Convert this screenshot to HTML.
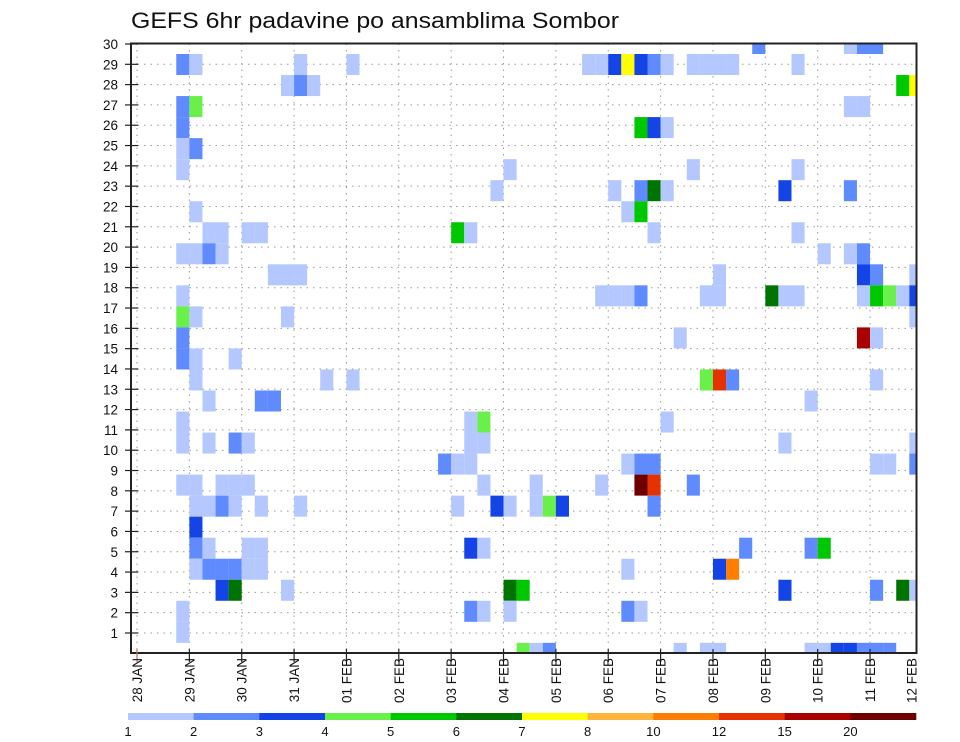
<!DOCTYPE html>
<html><head><meta charset="utf-8"><style>
html,body{margin:0;padding:0;background:#fff;}
svg{display:block;font-family:"Liberation Sans",sans-serif;}
</style></head><body>
<svg id="chart" width="960" height="742" viewBox="0 0 960 742" xmlns="http://www.w3.org/2000/svg">
<text x="131" y="28" font-size="22" textLength="488" lengthAdjust="spacingAndGlyphs" fill="#111">GEFS 6hr padavine po ansamblima Sombor</text>
<defs><clipPath id="pc"><rect x="131" y="43.5" width="785.5" height="609.5"/></clipPath></defs>
<g id="grid"></g>
<g id="cells" clip-path="url(#pc)"></g>
<rect x="131" y="43.5" width="785.5" height="609.5" fill="none" stroke="#222" stroke-width="2"/>
<g id="yaxis"></g>
<g id="xaxis"></g>
<g id="cbar"></g>
</svg>
<script>
const dayLabels = ["28 JAN","29 JAN","30 JAN","31 JAN","01 FEB","02 FEB","03 FEB","04 FEB","05 FEB","06 FEB","07 FEB","08 FEB","09 FEB","10 FEB","11 FEB","12 FEB"];
const memberTicks = [1,2,3,4,5,6,7,8,9,10,11,12,13,14,15,16,17,18,19,20,21,22,23,24,25,26,27,28,29,30];
const levels = [1,2,3,4,5,6,7,8,10,12,15,20];
const levelColors = ["#b4c8ff","#5f8bff","#1444e6","#6af04a","#00c800","#007400","#ffff00","#ffb43c","#ff7d00","#e63200","#aa0000","#6e0000"];
// representative values: L=1.5 b2=2.5 b3=3.5 G1=4.5 G2=5.5 G3=6.5 Y=7.5 9 11 13.5 17 25
const cellStep = [
47,54,55,56,
3,4,12,16,34,35,36,37,38,39,40,42,43,44,45,50,
11,12,13,58,59,
3,4,54,55,
3,38,39,40,
3,4,
3,28,42,50,
27,36,38,39,40,49,54,
4,37,38,
5,6,8,9,24,25,39,50,
3,4,5,6,52,54,55,
10,11,12,44,55,56,59,
3,35,36,37,38,43,44,48,49,50,55,56,57,58,59,
3,4,11,59,
3,41,55,56,
3,4,7,
4,14,16,43,44,45,56,
5,9,10,51,
3,25,26,40,
3,5,7,8,25,26,49,59,
23,24,25,37,38,39,56,57,59,
3,4,6,7,8,26,30,35,38,39,42,
4,5,6,7,9,12,24,27,28,30,31,32,39,
4,
4,5,8,9,25,26,46,51,52,
4,5,6,7,8,9,37,44,45,
6,7,11,28,29,49,56,58,59,
3,25,26,28,37,38,
3,
29,30,31,41,43,44,51,52,53,54,55,56,57];
const cellMember = [
30,30,30,30,
29,29,29,29,29,29,29,29,29,29,29,29,29,29,29,29,
28,28,28,28,28,
27,27,27,27,
26,26,26,26,
25,25,
24,24,24,24,
23,23,23,23,23,23,23,
22,22,22,
21,21,21,21,21,21,21,21,
20,20,20,20,20,20,20,
19,19,19,19,19,19,19,
18,18,18,18,18,18,18,18,18,18,18,18,18,18,18,
17,17,17,17,
16,16,16,16,
15,15,15,
14,14,14,14,14,14,14,
13,13,13,13,
12,12,12,12,
11,11,11,11,11,11,11,11,
10,10,10,10,10,10,10,10,10,
9,9,9,9,9,9,9,9,9,9,9,
8,8,8,8,8,8,8,8,8,8,8,8,8,
7,
6,6,6,6,6,6,6,6,6,
5,5,5,5,5,5,5,5,5,
4,4,4,4,4,4,4,4,4,
3,3,3,3,3,3,
2,
1,1,1,1,1,1,1,1,1,1,1,1,1];
const cellValue = [
2.5,1.5,2.5,2.5,
2.5,1.5,1.5,1.5,1.5,1.5,3.5,7.5,3.5,2.5,1.5,1.5,1.5,1.5,1.5,1.5,
1.5,2.5,1.5,5.5,7.5,
2.5,4.5,1.5,1.5,
2.5,5.5,3.5,1.5,
1.5,2.5,
1.5,1.5,1.5,1.5,
1.5,1.5,2.5,6.5,1.5,3.5,2.5,
1.5,1.5,5.5,
1.5,1.5,1.5,1.5,5.5,1.5,1.5,1.5,
1.5,1.5,2.5,1.5,1.5,1.5,2.5,
1.5,1.5,1.5,1.5,3.5,2.5,1.5,
1.5,1.5,1.5,1.5,2.5,1.5,1.5,6.5,1.5,1.5,1.5,5.5,4.5,1.5,3.5,
4.5,1.5,1.5,1.5,
2.5,1.5,17,1.5,
2.5,1.5,1.5,
1.5,1.5,1.5,4.5,13.5,2.5,1.5,
1.5,2.5,2.5,1.5,
1.5,1.5,4.5,1.5,
1.5,1.5,2.5,1.5,1.5,1.5,1.5,1.5,
2.5,1.5,1.5,1.5,2.5,2.5,1.5,1.5,2.5,
1.5,1.5,1.5,1.5,1.5,1.5,1.5,1.5,25,13.5,2.5,
1.5,1.5,2.5,1.5,1.5,1.5,1.5,3.5,1.5,1.5,4.5,3.5,2.5,
3.5,
2.5,1.5,1.5,1.5,3.5,1.5,2.5,2.5,5.5,
1.5,2.5,2.5,2.5,1.5,1.5,1.5,3.5,11,
3.5,6.5,1.5,6.5,5.5,3.5,2.5,6.5,1.5,
1.5,2.5,1.5,1.5,2.5,1.5,
1.5,
4.5,1.5,2.5,1.5,1.5,1.5,1.5,1.5,3.5,3.5,2.5,2.5,2.5];

const NS="http://www.w3.org/2000/svg";
const X0=137, STEP=13.09, DAY=STEP*4;
const PL=131, PR=916.5, PT=43.5, PB=653;
function xStep(k){return X0+k*STEP;}
function xDay(d){return X0+d*DAY;}
function yCellTop(m){return 54+(29-m)*21.03;}
const CELLH=21.03;
function yTick(m){return 44+(30-m)*20.31;}
function colorFor(v){let c=null;for(let i=0;i<levels.length;i++){if(v>=levels[i])c=levelColors[i];}return c;}
function mk(tag,attrs,parent){const e=document.createElementNS(NS,tag);for(const a in attrs)e.setAttribute(a,attrs[a]);parent.appendChild(e);return e;}

const grid=document.getElementById('grid');
memberTicks.forEach(m=>{
  const l=mk('line',{x1:PL,x2:PR,y1:yTick(m),y2:yTick(m),stroke:'#999','stroke-width':1,'stroke-dasharray':'1.5,5'},grid);
  
  
});
dayLabels.forEach((d,i)=>{
  const x=xDay(i); if(x>PR) return;
  const l=mk('line',{x1:x,x2:x,y1:PT,y2:PB,stroke:'#999','stroke-width':1,'stroke-dasharray':'1.5,5'},grid);
  
  
});

const cells=document.getElementById('cells');
for(let i=0;i<cellStep.length;i++){
  const c=colorFor(cellValue[i]); if(!c) continue;
  const r=mk('rect',{x:xStep(cellStep[i]),y:yCellTop(cellMember[i]),width:STEP,height:CELLH,fill:c},cells);
  
  
}

const ya=document.getElementById('yaxis');
memberTicks.forEach(m=>{
  const y=yTick(m);
  const t=mk('line',{x1:125,x2:138,y1:y,y2:y,stroke:'#222','stroke-width':1.2},ya);
  
  
  const tx=mk('text',{x:118,y:y+5,'font-size':13.5,'text-anchor':'end',fill:'#111'},ya);
  tx.textContent=m;
  
  
});

const xa=document.getElementById('xaxis');
dayLabels.forEach((d,i)=>{
  let x=xDay(i);
  if(x<=PR){
    const t=mk('line',{x1:x,x2:x,y1:PB-4,y2:PB+9,stroke:i===0?'#c66':'#222','stroke-width':1.2},xa);
    
    
  }
  const lx=Math.min(x,911.5);
  const tx=mk('text',{x:0,y:0,'font-size':13.5,'text-anchor':'end',fill:'#111',transform:`translate(${lx+5},658) rotate(-90)`},xa);
  tx.textContent=d;
  
  
});

const cb=document.getElementById('cbar');
const CB0=128, CB1=916, SW=(CB1-CB0)/levels.length;
levels.forEach((lv,i)=>{
  const r=mk('rect',{x:CB0+i*SW,y:713,width:SW+0.3,height:7,fill:levelColors[i]},cb);
  
  
  const t=mk('text',{x:CB0+i*SW,y:736,'font-size':13,'text-anchor':'middle',fill:'#111'},cb);
  t.textContent=lv;
  
  
});
</script>
</body></html>
